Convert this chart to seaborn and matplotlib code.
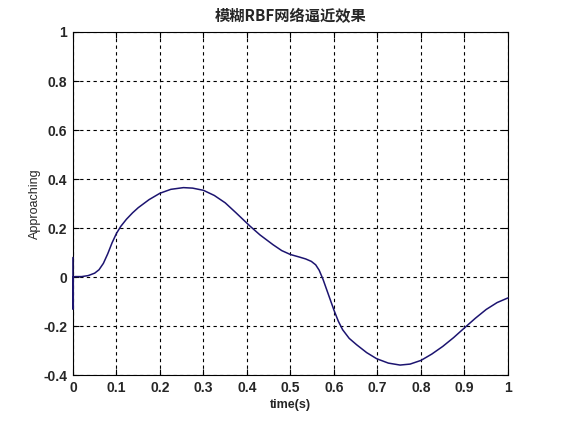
import matplotlib
matplotlib.use('Agg')
import matplotlib.pyplot as plt
import pandas as pd
import seaborn as sns

# Значения
t = [0.0, 0.0, 0.0, 0.005, 0.02, 0.035, 0.05, 0.06, 0.07, 0.08, 0.09, 0.1, 0.11, 0.123,
     0.137, 0.15, 0.175, 0.2, 0.225, 0.254, 0.275, 0.3, 0.325, 0.35, 0.375, 0.407,
     0.43, 0.46, 0.48, 0.5, 0.52, 0.535, 0.548, 0.558, 0.566, 0.575, 0.585, 0.6,
     0.61, 0.62, 0.635, 0.652, 0.675, 0.698, 0.725, 0.752, 0.775, 0.8, 0.825, 0.85,
     0.875, 0.897, 0.925, 0.95, 0.975, 1.0]
y = [0.08, -0.13, 0.0, 0.002, 0.002, 0.006, 0.016, 0.03, 0.056, 0.095, 0.14, 0.178, 0.207, 0.236,
     0.262, 0.283, 0.316, 0.342, 0.358, 0.365, 0.363, 0.354, 0.333, 0.303, 0.262, 0.208,
     0.172, 0.132, 0.108, 0.092, 0.082, 0.074, 0.064, 0.05, 0.028, -0.01, -0.06, -0.135,
     -0.18, -0.215, -0.25, -0.276, -0.308, -0.333, -0.351, -0.359, -0.355, -0.34, -0.314, -0.283,
     -0.247, -0.212, -0.168, -0.132, -0.104, -0.085]

title = '模糊RBF网络逼近效果'
xticks = [0, 0.1, 0.2, 0.3, 0.4, 0.5, 0.6, 0.7, 0.8, 0.9, 1]
yticks = [-0.4, -0.2, 0, 0.2, 0.4, 0.6, 0.8, 1]

df = pd.DataFrame({'t': t, 'y': y})

sns.set_style('ticks')
plt.rcParams['font.family'] = ['Liberation Sans', 'Noto Sans CJK SC', 'DejaVu Sans']

fig = plt.figure(figsize=(5.61, 4.21), dpi=100)
ax = fig.add_axes([0.130, 0.109, 0.7755, 0.815])
sns.lineplot(data=df, x='t', y='y', sort=False, estimator=None, color='#1c1470',
             linewidth=1.1, ax=ax, clip_on=False, zorder=5)

ax.set_xlim(0, 1)
ax.set_ylim(-0.4, 1)
ax.set_xticks(xticks)
ax.set_yticks(yticks)
ax.set_xticklabels([f'{v:g}' for v in xticks], fontweight='bold', fontsize=10)
ax.set_yticklabels([f'{v:g}' for v in yticks], fontweight='bold', fontsize=10)
ax.tick_params(direction='in', top=True, right=True, length=4, color='black', pad=4)
ax.grid(True, color='black', linestyle=(0, (3, 3)), linewidth=0.8)
for s in ax.spines.values():
    s.set_color('black')
    s.set_linewidth(0.8)

ax.set_title(title, fontsize=11, fontweight='bold', family=['Noto Sans CJK SC', 'DejaVu Sans'], pad=8)
ax.set_xlabel('time(s)', fontsize=9, fontweight='bold', labelpad=3)
ax.set_ylabel('Approaching', fontsize=9, labelpad=2)

fig.savefig('out.png', dpi=100, facecolor='white')
